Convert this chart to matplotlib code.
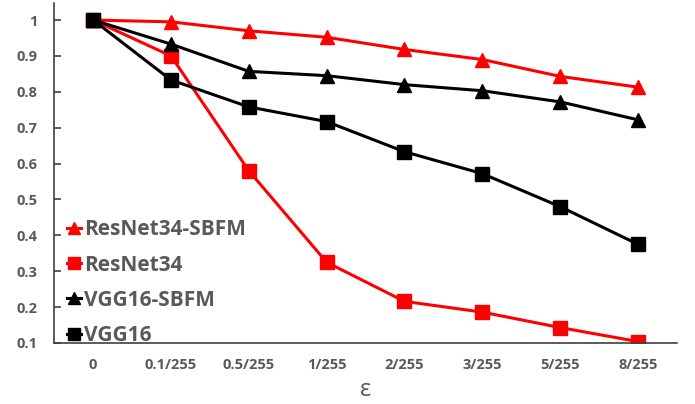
import numpy as np
import matplotlib.pyplot as plt

plt.rcParams['font.family'] = ['Open Sans', 'DejaVu Sans']

eps = ['0', '0.1/255', '0.5/255', '1/255', '2/255', '3/255', '5/255', '8/255']
resnet_sbfm = [1.0, 0.995, 0.97, 0.952, 0.918, 0.89, 0.843, 0.813]
resnet = [1.0, 0.90, 0.58, 0.325, 0.216, 0.186, 0.143, 0.104]
vgg_sbfm = [1.0, 0.933, 0.857, 0.845, 0.82, 0.803, 0.772, 0.722]
vgg = [1.0, 0.833, 0.758, 0.717, 0.633, 0.572, 0.48, 0.375]

gray = '#595959'
fig = plt.figure(figsize=(6.95, 4.04), dpi=100)
ax = fig.add_axes([0.078, 0.151, 0.896, 0.842])
x = np.arange(len(eps))

ax.plot(x, resnet_sbfm, color='#FF0000', lw=2.2, marker='^', ms=10, label='ResNet34-SBFM')
ax.plot(x, resnet, color='#FF0000', lw=2.2, marker='s', ms=10, label='ResNet34')
ax.plot(x, vgg_sbfm, color='#000000', lw=2.2, marker='^', ms=10, label='VGG16-SBFM')
ax.plot(x, vgg, color='#000000', lw=2.2, marker='s', ms=10, label='VGG16')

ax.set_xlim(-0.5, 7.5)
ax.set_ylim(0.1, 1.048)
ax.set_yticks(np.arange(0.1, 1.01, 0.1))
ax.set_yticklabels(['0.1', '0.2', '0.3', '0.4', '0.5', '0.6', '0.7', '0.8', '0.9', '1'])
ax.set_xticks(x)
ax.set_xticklabels(eps)
for s in ['top', 'right']:
    ax.spines[s].set_visible(False)
for s in ['left', 'bottom']:
    ax.spines[s].set_color('#404040')
    ax.spines[s].set_linewidth(1.2)
ax.tick_params(axis='y', direction='in', length=5, width=1.2, colors='#404040',
               labelcolor=gray, labelsize=10.5, pad=12)
ax.tick_params(axis='x', length=0, labelcolor=gray, labelsize=10.5, pad=11)
for lab in ax.get_xticklabels() + ax.get_yticklabels():
    lab.set_fontweight('bold')

ax.set_xlabel('ε', fontsize=17, color=gray, labelpad=4)

leg = ax.legend(loc='upper left', bbox_to_anchor=(0.0, 0.4), frameon=False,
                handlelength=0.7, handletextpad=0.15, labelspacing=0.68,
                borderaxespad=0.2, prop={'weight': 'bold', 'size': 15})
for t in leg.get_texts():
    t.set_color(gray)
for h in leg.legend_handles:
    h.set_markersize(9)

fig.savefig('out.png', dpi=100)
